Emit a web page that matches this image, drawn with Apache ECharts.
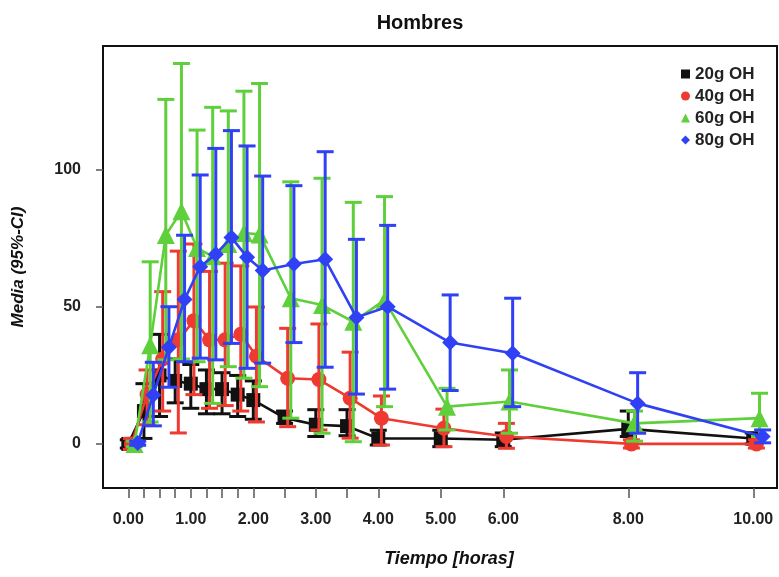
<!DOCTYPE html>
<html>
<head>
<meta charset="utf-8">
<title>Hombres</title>
<script src="https://cdn.jsdelivr.net/npm/echarts@6/dist/echarts.min.js"></script>
<style>
  html, body { margin: 0; padding: 0; background: #fff; }
  #chart { width: 779px; height: 577px; }
</style>
</head>
<body>
<div id="chart"></div>
<script>
// Sampling times (hours)
const horas = [0, 0.25, 0.5, 0.75, 1.0, 1.25, 1.5, 1.75, 2.0, 2.5, 3.0, 3.5, 4.0, 5.0, 6.0, 8.0, 10.0];

// Tick marks at the sampling times, labels at whole hours
const xTicks = [0, 0.25, 0.5, 0.75, 1.0, 1.25, 1.5, 1.75, 2.0, 2.5, 3.0, 3.5, 4.0, 5.0, 6.0, 8.0, 10.0];
const xLabels = [0, 1, 2, 3, 4, 5, 6, 8, 10];
const yLabels = [0, 50, 100];

// 20g OH: mean, upper and lower 95% CI
const media20 = [0, 12, 25, 23, 22, 20, 20, 18, 16, 9.5, 7, 6.5, 2, 2, 1.5, 5.5, 2];
const sup20   = [1.5, 22, 40, 31, 29, 27, 26, 25, 23, 12, 12.5, 12.5, 5, 5, 4, 12, 4];
const inf20   = [-1.5, 2, 10, 15, 13, 11, 11, 10, 9, 7.5, 2.7, 3, -0.4, -1, -1, 2.7, 0];

// 40g OH
const media40 = [0, 18, 31, 38, 45, 38, 38, 40, 32, 24, 23.5, 16.7, 9.4, 5.7, 2.7, 0, 0];
const sup40   = [2, 27, 55.6, 70.4, 73, 63, 66, 65, 50, 42.2, 43.8, 33.5, 17.5, 12.7, 7.5, 1.5, 1.5];
const inf40   = [-2, 7, 12, 4, 18, 13, 14, 12, 8, 6.3, 5.1, 2.1, -0.4, -1, -1.6, -1.5, -1.5];

// 60g OH
const media60 = [0, 36, 76.3, 85, 71.5, 68.5, 73, 77, 76.5, 53.2, 50.7, 44.6, 52.5, 13.6, 15.5, 7.5, 9.4];
const sup60   = [1, 66.5, 125.8, 138.9, 114.6, 122.9, 121.6, 128.8, 131.6, 95.7, 97, 88.2, 90.3, 20.3, 27, 12, 18.5];
const inf60   = [-1, 8, 30.7, 31, 30, 14.8, 28.2, 24, 20.9, 9.4, 3.9, 0.8, 13.6, 5.1, 3.9, 1, 2.7];

// 80g OH
const media80 = [0.3, 17.9, 35.3, 52.7, 64.7, 69.3, 75.4, 68.2, 63.3, 65.7, 67.4, 46.2, 50.1, 37, 33.1, 14.8, 2.7];
const sup80   = [1, 29.8, 50.1, 76.2, 98.2, 107.9, 114.4, 108.8, 97.8, 94.3, 106.7, 74.7, 79.8, 54.4, 53.2, 26, 5.1];
const inf80   = [-0.5, 6.6, 20.7, 30, 31.3, 30.7, 36.7, 27.6, 29.5, 37, 28, 18.2, 20, 19.5, 13.6, 3.9, 0.4];

const grupos = [
  { name: '20g OH', media: media20, sup: sup20, inf: inf20, color: '#111111', symbol: 'rect',     size: 14, icon: 'rect',     shift: 0 },
  { name: '40g OH', media: media40, sup: sup40, inf: inf40, color: '#ee3a30', symbol: 'circle',   size: 15, icon: 'circle',   shift: 0.05 },
  { name: '60g OH', media: media60, sup: sup60, inf: inf60, color: '#5fcf3c', symbol: 'triangle', size: 18, icon: 'triangle', shift: 0.10 },
  { name: '80g OH', media: media80, sup: sup80, inf: inf80, color: '#2f40f5', symbol: 'diamond',  size: 16, icon: 'diamond',  shift: 0.15 }
];

const FONT = '"Liberation Sans", Arial, Helvetica, sans-serif';
const CAP = 8.5;

function errorBars(g, idx) {
  return {
    type: 'custom',
    name: g.name,
    z: 2 + idx * 2,
    silent: true,
    data: horas.map((t, i) => [t + g.shift, g.inf[i], g.sup[i]]),
    encode: { x: 0, y: [1, 2] },
    renderItem: function (params, api) {
      const x = api.value(0);
      const lo = api.coord([x, api.value(1)]);
      const hi = api.coord([x, api.value(2)]);
      const style = { stroke: g.color, lineWidth: 3 };
      return {
        type: 'group',
        children: [
          { type: 'line', shape: { x1: lo[0], y1: lo[1], x2: hi[0], y2: hi[1] }, style: style },
          { type: 'line', shape: { x1: hi[0] - CAP, y1: hi[1], x2: hi[0] + CAP, y2: hi[1] }, style: style },
          { type: 'line', shape: { x1: lo[0] - CAP, y1: lo[1], x2: lo[0] + CAP, y2: lo[1] }, style: style }
        ]
      };
    }
  };
}

function meanLine(g, idx) {
  return {
    type: 'line',
    name: g.name,
    z: 3 + idx * 2,
    data: horas.map((t, i) => [t + g.shift, g.media[i]]),
    symbol: g.symbol,
    symbolSize: g.size,
    showAllSymbol: true,
    lineStyle: { color: g.color, width: 2.6 },
    itemStyle: { color: g.color },
    emphasis: { disabled: true },
    animation: false
  };
}

const series = [];
grupos.forEach((g, i) => { series.push(errorBars(g, i)); series.push(meanLine(g, i)); });

const chart = echarts.init(document.getElementById('chart'), null, { renderer: 'canvas' });
chart.setOption({
  animation: false,
  backgroundColor: '#ffffff',
  title: {
    text: 'Hombres',
    left: 415, top: 8, textAlign: 'center',
    textStyle: { fontFamily: FONT, fontWeight: 'bold', fontSize: 20, color: '#111' }
  },
  legend: {
    orient: 'vertical',
    left: 676, top: 60,
    itemWidth: 9, itemHeight: 9, itemGap: 4,
    textStyle: { fontFamily: FONT, fontWeight: 'bold', fontSize: 17, color: '#222', lineHeight: 18 },
    data: grupos.map(g => ({ name: g.name, icon: g.icon, itemStyle: { color: g.color } })),
    selectedMode: false
  },
  grid: {
    left: 103, top: 46, right: 2, bottom: 89,
    show: true, borderColor: '#111', borderWidth: 2, backgroundColor: 'transparent'
  },
  xAxis: {
    type: 'value',
    min: -0.405, max: 10.38,
    position: 'bottom',
    name: 'Tiempo [horas]',
    nameLocation: 'middle', nameGap: 62,
    nameTextStyle: { fontFamily: FONT, fontWeight: 'bold', fontStyle: 'italic', fontSize: 18, color: '#111', padding: [0, 0, 0, 18] },
    axisLine: { show: false, onZero: false },
    splitLine: { show: false },
    axisTick: { show: true, inside: false, length: 10, customValues: xTicks, lineStyle: { color: '#555', width: 1.5 } },
    axisLabel: {
      customValues: xLabels, margin: 24,
      formatter: v => v.toFixed(2),
      fontFamily: FONT, fontWeight: 'bold', fontSize: 16, color: '#222'
    }
  },
  yAxis: {
    type: 'value',
    min: -16.1, max: 145.3,
    position: 'left',
    name: 'Media (95%-CI)',
    nameLocation: 'middle', nameGap: 76, nameRotate: 90,
    nameTextStyle: { fontFamily: FONT, fontWeight: 'bold', fontStyle: 'italic', fontSize: 17, color: '#111' },
    axisLine: { show: false, onZero: false },
    splitLine: { show: false },
    axisTick: { show: true, inside: false, length: 7, customValues: yLabels, lineStyle: { color: '#555', width: 1.5 } },
    axisLabel: {
      customValues: yLabels, margin: 22,
      fontFamily: FONT, fontWeight: 'bold', fontSize: 16, color: '#222'
    }
  },
  series: series
});
</script>
</body>
</html>
